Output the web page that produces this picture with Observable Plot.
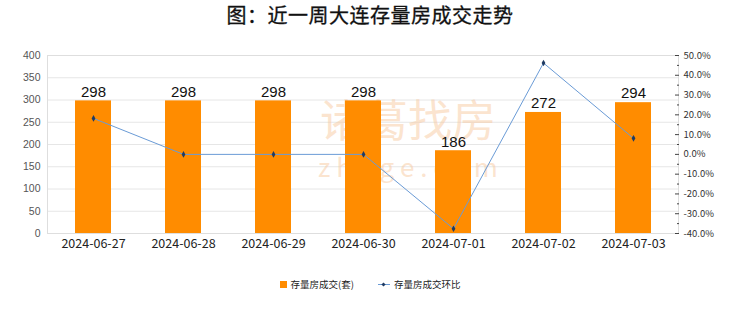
<!DOCTYPE html>
<html>
<head>
<meta charset="utf-8">
<script src="https://cdn.jsdelivr.net/npm/d3@7"></script>
<script src="https://cdn.jsdelivr.net/npm/@observablehq/plot@0.6"></script>
<style>
  html, body { margin: 0; padding: 0; background: #fff; }
  #wrap { width: 740px; height: 312px; position: relative; font-family: "Noto Sans CJK SC", sans-serif; }
  #title { height: 40px; line-height: 30px; text-align: center; font-size: 20px; font-weight: normal; color: #111; letter-spacing: 0.5px; -webkit-text-stroke: 0.3px #111; }
  #legend { display: flex; justify-content: center; align-items: center; font-size: 9.5px; color: #222; padding-top: 17px; padding-left: 0px; }
  .sw { display: inline-block; width: 7px; height: 7px; background: #FF8C00; margin-right: 4px; }
  .ln { display: inline-block; position: relative; width: 12px; height: 8px; margin: 0 4px 0 24px; }
  .ln::before { content: ""; position: absolute; left: 0; right: 0; top: 4px; height: 1px; background: #6a9bd6; }
  .ln::after { content: ""; position: absolute; left: 4.5px; top: 2.5px; width: 3px; height: 3px; background: #1f3b63; transform: rotate(45deg); }
</style>
</head>
<body>
<div id="wrap">
  <div id="title">图：近一周大连存量房成交走势</div>
  <div id="chart"></div>
  <div id="legend"><span class="sw"></span><span>存量房成交(套)</span><span class="ln"></span><span>存量房成交环比</span></div>
</div>
<script>
const dates = ["2024-06-27", "2024-06-28", "2024-06-29", "2024-06-30", "2024-07-01", "2024-07-02", "2024-07-03"];
const deals = [298, 298, 298, 298, 186, 272, 294];
const ratio = [18.2, 0.0, 0.0, 0.0, -37.6, 46.2, 8.1];
const leftTicks = [0, 50, 100, 150, 200, 250, 300, 350, 400];
const rightTicks = [-40, -30, -20, -10, 0, 10, 20, 30, 40, 50];
const rightMinor = [-35, -25, -15, -5, 5, 15, 25, 35, 45];

const pctMin = -40, pctMax = 50, yMax = 400;
const toY = p => (p - pctMin) / (pctMax - pctMin) * yMax;

const data = dates.map((d, i) => ({date: d, deals: deals[i], ratio: ratio[i]}));

const chart = Plot.plot({
  width: 740,
  height: 220,
  marginTop: 15,
  marginBottom: 27,
  marginLeft: 47,
  marginRight: 62,
  style: {fontFamily: "'Liberation Sans', Arial, sans-serif", background: "#fff"},
  x: {type: "band", domain: dates, paddingInner: 0.6, paddingOuter: 0.3, align: 0.5, label: null},
  y: {domain: [0, yMax], label: null},
  marks: [
    Plot.gridY(leftTicks, {stroke: "#e6e6e6", strokeOpacity: 1}),
    Plot.frame({stroke: "#dedede"}),
    Plot.text(["诸葛找房"], {frameAnchor: "middle", dx: 45, dy: -22, fontSize: 44, fill: "#f7c9a0", fillOpacity: 0.5, fontFamily: "'Noto Sans CJK SC'", letterSpacing: "4px"}),
    Plot.text(["z h u g e . c o m"], {frameAnchor: "middle", dx: 45, dy: 24, fontSize: 26, fill: "#f7c9a0", fillOpacity: 0.5, fontFamily: "'Noto Sans CJK SC'"}),
    Plot.axisY({ticks: leftTicks, tickSize: 0, tickPadding: 7, fill: "#555", fontSize: 10.5, label: null}),
    Plot.axisY({anchor: "right", ticks: rightTicks.map(toY), tickSize: 0, tickPadding: 5, fill: "#333", fontSize: 9.5, fontFamily: "'Noto Sans CJK SC'", tickFormat: v => {
      const p = Math.round(v / yMax * (pctMax - pctMin) + pctMin);
      return p.toFixed(1) + "%";
    }, label: null}),
    Plot.axisY({anchor: "right", ticks: rightTicks.map(toY), tickSize: -4, stroke: "#444", tickFormat: () => "", label: null}),
    Plot.axisY({anchor: "right", ticks: rightMinor.map(toY), tickSize: -2, stroke: "#444", tickFormat: () => "", label: null}),
    Plot.axisX({tickSize: 0, tickPadding: 6, fontSize: 12.5, fill: "#222", fontFamily: "'Noto Sans CJK SC'", label: null}),
    Plot.barY(data, {x: "date", y: "deals", fill: "#FF8C00"}),
    Plot.text(data, {x: "date", y: "deals", text: d => String(d.deals), dy: -9, fontSize: 15, fill: "#111"}),
    Plot.line(data, {x: "date", y: d => toY(d.ratio), stroke: "#6a9bd6", strokeWidth: 1}),
    Plot.dot(data, {x: "date", y: d => toY(d.ratio), symbol: "diamond", r: 2, fill: "#1f3b63", stroke: "none"})
  ]
});
document.getElementById("chart").appendChild(chart);
</script>
</body>
</html>
